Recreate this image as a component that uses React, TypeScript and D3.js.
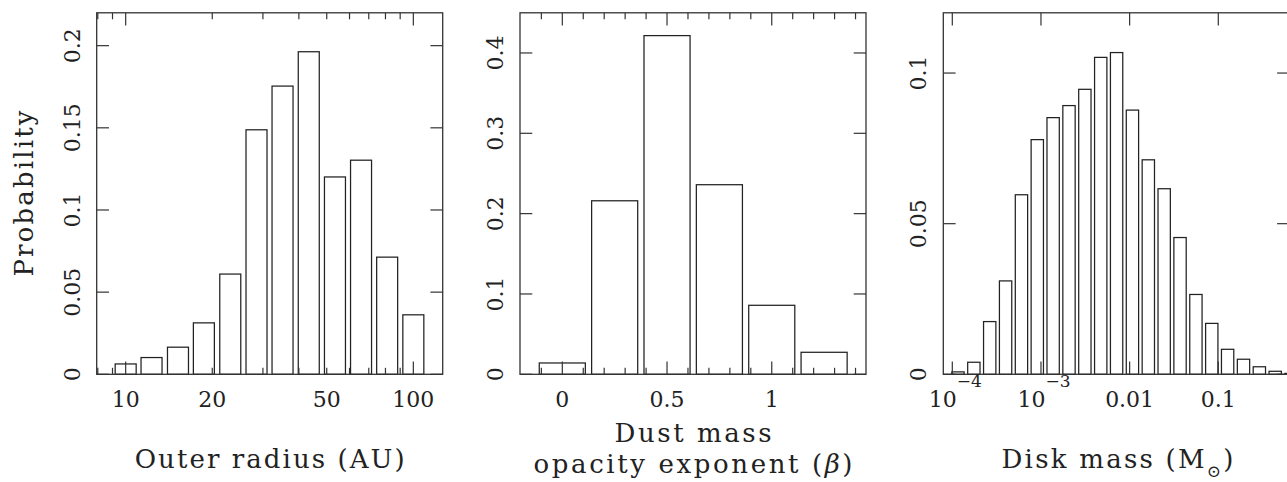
import React from "react";
import * as d3 from "d3";

// ---------- data ----------
const radiusBins = [10, 12.3, 15.2, 18.7, 23.1, 28.5, 35.1, 43.3, 53.4, 65.8, 81.1, 100];
const radiusProb = [0.0063, 0.0102, 0.0165, 0.0313, 0.061, 0.1488, 0.1754, 0.1963, 0.1201, 0.1303, 0.0713, 0.0362];

const betaBins = [0, 0.25, 0.5, 0.75, 1.0, 1.25];
const betaProb = [0.0141, 0.216, 0.4216, 0.236, 0.0859, 0.0274];

const massBins = [
  1.159e-4, 1.75e-4, 2.642e-4, 3.99e-4, 6.026e-4, 9.09e-4, 1.372e-3, 2.071e-3, 3.127e-3, 4.721e-3,
  7.129e-3, 0.01076, 0.01625, 0.02453, 0.03703, 0.05592, 0.08441, 0.1274, 0.1924, 0.2905, 0.4385, 0.6621,
];
const massProb = [
  0.0008, 0.004, 0.0175, 0.031, 0.0596, 0.0779, 0.0852, 0.0892, 0.0946, 0.1052, 0.1068, 0.0877, 0.0712,
  0.0616, 0.0454, 0.0265, 0.0169, 0.0083, 0.005, 0.0025, 0.001, 0.0003,
];

const radiusMajorTicks = [10, 100];
const radiusMinorTicks = [8, 9, 20, 30, 40, 50, 60, 70, 80, 90];
const radiusTickLabels = [10, 20, 50, 100];

const betaMajorTicks = [0, 0.5, 1];
const betaMinorTicks = [-0.1, 0.1, 0.2, 0.3, 0.4, 0.6, 0.7, 0.8, 0.9, 1.1, 1.2, 1.3, 1.4];
const betaTickLabels = ["0", "0.5", "1"];

const massMajorTicks = [1e-4, 1e-3, 0.01, 0.1];
const massTickLabels = [
  { base: "10", sup: "−4" },
  { base: "10", sup: "−3" },
  { base: "0.01", sup: "" },
  { base: "0.1", sup: "" },
];

const radiusYTicks = [0, 0.05, 0.1, 0.15, 0.2];
const betaYTicks = [0, 0.1, 0.2, 0.3, 0.4];
const massYTicks = [0, 0.05, 0.1];

// ---------- layout ----------
const W = 1287;
const H = 482;
const TOP = 12.8;
const BOTTOM = 374.3;
const MAJ = 12.7;
const MIN = 6.5;
const INK = "#222";
const FONT = "'DejaVu Serif', serif";

function fmtY(v: number) {
  return v === 0 ? "0" : String(+v.toFixed(2));
}

function Frame({ left, right }: { left: number; right: number }) {
  return (
    <rect x={left} y={TOP} width={right - left} height={BOTTOM - TOP} fill="none" stroke="#333" strokeWidth={1.3} />
  );
}

function XTicks({ xs, len }: { xs: number[]; len: number }) {
  return (
    <g stroke="#333" strokeWidth={1.2}>
      {xs.map((x, i) => (
        <g key={i}>
          <line x1={x} x2={x} y1={TOP} y2={TOP + len} />
          <line x1={x} x2={x} y1={BOTTOM} y2={BOTTOM - len} />
        </g>
      ))}
    </g>
  );
}

function YAxis({ y, ticks, left, right }: { y: d3.ScaleLinear<number, number>; ticks: number[]; left: number; right: number }) {
  return (
    <g>
      <g stroke="#333" strokeWidth={1.2}>
        {ticks.map((t, i) => (
          <g key={i}>
            <line x1={left} x2={left + 12.3} y1={y(t)} y2={y(t)} />
            <line x1={right} x2={right - 12.3} y1={y(t)} y2={y(t)} />
          </g>
        ))}
      </g>
      {ticks.map((t, i) => (
        <text
          key={i}
          transform={`translate(${left - 17},${y(t)}) rotate(-90)`}
          textAnchor="middle"
          fontFamily={FONT}
          fontSize={22}
          fill={INK}
        >
          {fmtY(t)}
        </text>
      ))}
    </g>
  );
}

export default function App() {
  // Panel 1: outer radius (log x)
  const p1 = { left: 96.7, right: 442.7 };
  const x1 = d3.scaleLog().domain([7.93, 126.5]).range([p1.left, p1.right]);
  const y1 = d3.scaleLinear().domain([0, 0.22]).range([BOTTOM, TOP]);
  const hw1 = Math.pow(10, 0.0365);

  // Panel 2: beta (linear x)
  const p2 = { left: 520, right: 866 };
  const x2 = d3.scaleLinear().domain([-0.202, 1.45]).range([p2.left, p2.right]);
  const y2 = d3.scaleLinear().domain([0, 0.45]).range([BOTTOM, TOP]);
  const hw2 = 0.11;

  // Panel 3: disk mass (log x)
  const p3 = { left: 943.3, right: 1289.4 };
  const x3 = d3.scaleLog().domain([Math.pow(10, -4.1015), Math.pow(10, -0.198)]).range([p3.left, p3.right]);
  const y3 = d3.scaleLinear().domain([0, 0.12]).range([BOTTOM, TOP]);
  const hw3 = Math.pow(10, 0.0695);

  const barStyle = { fill: "none", stroke: INK, strokeWidth: 1.25 };

  return (
    <svg
      width={W}
      height={H}
      style={{ position: "absolute", left: 0, top: 0, background: "#fff" }}
      fontFamily={FONT}
    >
      <defs>
        <clipPath id="clip3">
          <rect x={p3.left} y={TOP - 2} width={p3.right - p3.left} height={BOTTOM - TOP + 4} />
        </clipPath>
      </defs>
      <rect x={0} y={0} width={W} height={H} fill="#fff" />

      {/* ---------- Panel 1 ---------- */}
      <g>
        {radiusBins.map((c, i) => (
          <rect
            key={i}
            x={x1(c / hw1)}
            y={y1(radiusProb[i])}
            width={x1(c * hw1) - x1(c / hw1)}
            height={y1(0) - y1(radiusProb[i])}
            {...barStyle}
          />
        ))}
        <XTicks xs={radiusMajorTicks.map((t) => x1(t))} len={MAJ} />
        <XTicks xs={radiusMinorTicks.map((t) => x1(t))} len={MIN} />
        <YAxis y={y1} ticks={radiusYTicks} left={p1.left} right={p1.right} />
        <Frame {...p1} />
        {radiusTickLabels.map((t, i) => (
          <text key={i} x={x1(t)} y={406.5} textAnchor="middle" fontSize={22} fill={INK}>
            {t}
          </text>
        ))}
        <text
          x={(p1.left + p1.right) / 2}
          y={468.3}
          textAnchor="middle"
          fontSize={26}
          fill={INK}
          textLength={270}
          lengthAdjust="spacing"
        >
          Outer radius (AU)
        </text>
        <text
          transform={`translate(33.3,${(TOP + BOTTOM) / 2}) rotate(-90)`}
          textAnchor="middle"
          fontSize={26}
          fill={INK}
          textLength={166}
          lengthAdjust="spacing"
        >
          Probability
        </text>
      </g>

      {/* ---------- Panel 2 ---------- */}
      <g>
        {betaBins.map((c, i) => (
          <rect
            key={i}
            x={x2(c - hw2)}
            y={y2(betaProb[i])}
            width={x2(c + hw2) - x2(c - hw2)}
            height={y2(0) - y2(betaProb[i])}
            {...barStyle}
          />
        ))}
        <XTicks xs={betaMajorTicks.map((t) => x2(t))} len={MAJ} />
        <XTicks xs={betaMinorTicks.map((t) => x2(t))} len={MIN} />
        <YAxis y={y2} ticks={betaYTicks} left={p2.left} right={p2.right} />
        <Frame {...p2} />
        {betaMajorTicks.map((t, i) => (
          <text key={i} x={x2(t)} y={406.5} textAnchor="middle" fontSize={22} fill={INK}>
            {betaTickLabels[i]}
          </text>
        ))}
        <text
          x={(p2.left + p2.right) / 2}
          y={441.7}
          textAnchor="middle"
          fontSize={26}
          fill={INK}
          textLength={157}
          lengthAdjust="spacing"
        >
          Dust mass
        </text>
        <text
          x={(p2.left + p2.right) / 2}
          y={473.3}
          textAnchor="middle"
          fontSize={26}
          fill={INK}
          textLength={319}
          lengthAdjust="spacing"
        >
          opacity exponent (<tspan fontStyle="italic">β</tspan>)
        </text>
      </g>

      {/* ---------- Panel 3 ---------- */}
      <g>
        <g clipPath="url(#clip3)">
          {massBins.map((c, i) => (
            <rect
              key={i}
              x={x3(c / hw3)}
              y={y3(massProb[i])}
              width={x3(c * hw3) - x3(c / hw3)}
              height={y3(0) - y3(massProb[i])}
              {...barStyle}
            />
          ))}
        </g>
        <XTicks xs={massMajorTicks.map((t) => x3(t))} len={MAJ} />
        <YAxis y={y3} ticks={massYTicks} left={p3.left} right={p3.right} />
        <Frame {...p3} />
        {massMajorTicks.map((t, i) => (
          <text key={i} x={x3(t) + (massTickLabels[i].sup ? 3 : 0)} y={406.5} textAnchor="middle" fontSize={22} fill={INK}>
            {massTickLabels[i].base}
            {massTickLabels[i].sup ? (
              <tspan dy={-20} fontSize={17}>
                {massTickLabels[i].sup}
              </tspan>
            ) : null}
          </text>
        ))}
        <text
          x={1117.5}
          y={468.3}
          textAnchor="middle"
          fontSize={26}
          fill={INK}
          textLength={232}
          lengthAdjust="spacing"
        >
          Disk mass (M
          <tspan dy={9} fontSize={17}>
            ⊙
          </tspan>
          <tspan dy={-9}>)</tspan>
        </text>
      </g>
    </svg>
  );
}
